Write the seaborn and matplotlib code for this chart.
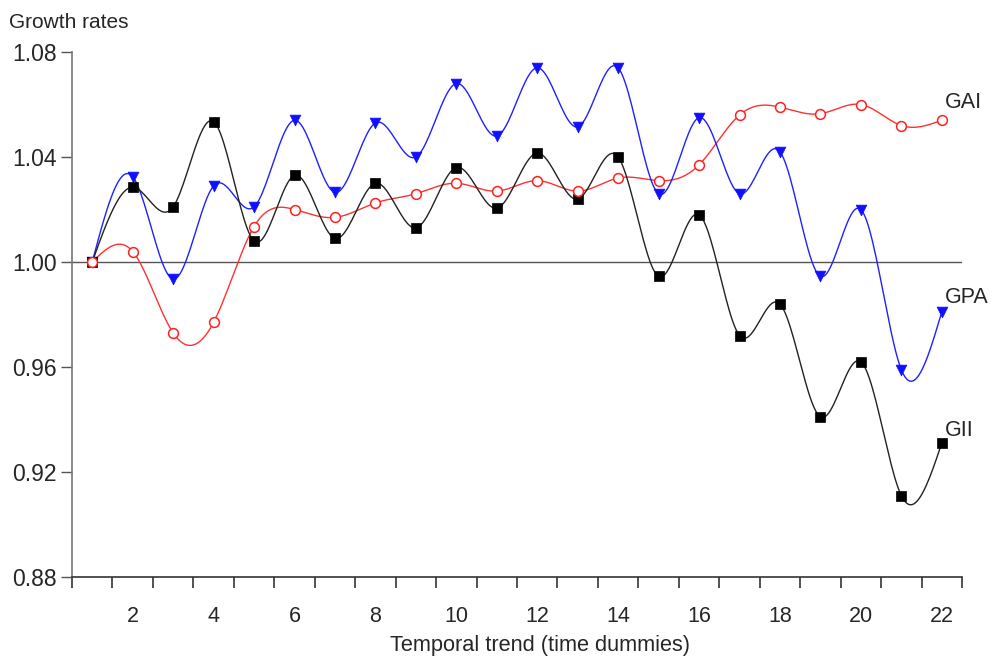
"""
Growth rates of GAI, GPA and GII against the temporal trend (time dummies).
"""

import numpy as np
import pandas as pd
import matplotlib
matplotlib.use("Agg")
import matplotlib.pyplot as plt
import seaborn as sns


# ═══════════════════════════════════════════════════════════════════════
# Data
# ═══════════════════════════════════════════════════════════════════════

periods = list(range(1, 23))

gai = [1.000, 1.004, 0.973, 0.977, 1.0135, 1.020, 1.017, 1.0225, 1.026, 1.030,
       1.027, 1.031, 1.027, 1.032, 1.031, 1.037, 1.056, 1.059, 1.0565, 1.060,
       1.052, 1.054]

gpa = [1.000, 1.0325, 0.9935, 1.029, 1.021, 1.054, 1.0265, 1.053, 1.040, 1.068,
       1.048, 1.074, 1.0515, 1.074, 1.026, 1.055, 1.026, 1.042, 0.9945, 1.020,
       0.959, 0.981]

gii = [1.000, 1.0285, 1.021, 1.0535, 1.008, 1.033, 1.009, 1.030, 1.013, 1.036,
       1.0205, 1.0415, 1.024, 1.040, 0.9945, 1.018, 0.972, 0.984, 0.941, 0.962,
       0.911, 0.931]

series_names = ["GAI", "GPA", "GII"]
x_ticks = [2, 4, 6, 8, 10, 12, 14, 16, 18, 20, 22]
y_ticks = [0.88, 0.92, 0.96, 1.00, 1.04, 1.08]

COLORS = {"GAI": "#ff2020", "GPA": "#1010ff", "GII": "#000000"}
LINE_COLORS = {"GAI": "#ff3030", "GPA": "#2020ff", "GII": "#222222"}


# ═══════════════════════════════════════════════════════════════════════
# Helpers
# ═══════════════════════════════════════════════════════════════════════

def natural_spline(x, y, n_per_seg=24):
    """Natural cubic spline through (x, y), evaluated on a fine grid."""
    x = np.asarray(x, dtype=float)
    y = np.asarray(y, dtype=float)
    n = len(x)
    h = np.diff(x)
    A = np.zeros((n, n))
    b = np.zeros(n)
    A[0, 0] = A[-1, -1] = 1.0
    for i in range(1, n - 1):
        A[i, i - 1] = h[i - 1]
        A[i, i] = 2 * (h[i - 1] + h[i])
        A[i, i + 1] = h[i]
        b[i] = 6 * ((y[i + 1] - y[i]) / h[i] - (y[i] - y[i - 1]) / h[i - 1])
    m = np.linalg.solve(A, b)

    xs, ys = [], []
    for i in range(n - 1):
        t = np.linspace(x[i], x[i + 1], n_per_seg, endpoint=(i == n - 2))
        a = x[i + 1] - t
        c = t - x[i]
        s = (m[i] * a ** 3 + m[i + 1] * c ** 3) / (6 * h[i]) \
            + (y[i] / h[i] - m[i] * h[i] / 6) * a \
            + (y[i + 1] / h[i] - m[i + 1] * h[i] / 6) * c
        xs.append(t)
        ys.append(s)
    return np.concatenate(xs), np.concatenate(ys)


# ═══════════════════════════════════════════════════════════════════════
# Build tables
# ═══════════════════════════════════════════════════════════════════════

values = {"GAI": gai, "GPA": gpa, "GII": gii}

df_points = pd.concat(
    [pd.DataFrame({"period": periods, "rate": values[k], "series": k})
     for k in series_names],
    ignore_index=True,
)

curves = []
for k in series_names:
    xs, ys = natural_spline(periods, values[k])
    curves.append(pd.DataFrame({"period": xs, "rate": ys, "series": k}))
df_curves = pd.concat(curves, ignore_index=True)


# ═══════════════════════════════════════════════════════════════════════
# Plot
# ═══════════════════════════════════════════════════════════════════════

sns.set_style("white")
plt.rcParams["font.family"] = ["Liberation Sans", "DejaVu Sans"]

fig = plt.figure(figsize=(10.03, 6.56), dpi=100)
ax = fig.add_axes([72 / 1003, 1 - 577 / 656, 890 / 1003, 525 / 656])

ax.axhline(1.0, color="#555555", lw=1.0, zorder=1)

sns.lineplot(data=df_curves, x="period", y="rate", hue="series",
             palette=LINE_COLORS, hue_order=series_names, lw=1.0,
             estimator=None, sort=False, legend=False, ax=ax, zorder=2)

# filled markers
sns.scatterplot(data=df_points[df_points["series"] == "GPA"], x="period",
                y="rate", color=COLORS["GPA"], marker="v", s=60,
                edgecolor=COLORS["GPA"], linewidth=0.5, legend=False,
                ax=ax, zorder=3)
sns.scatterplot(data=df_points[df_points["series"] == "GII"], x="period",
                y="rate", color=COLORS["GII"], marker="s", s=50,
                edgecolor=COLORS["GII"], linewidth=0.5, legend=False,
                ax=ax, zorder=3)
# open circles
sns.scatterplot(data=df_points[df_points["series"] == "GAI"], x="period",
                y="rate", marker="o", s=50, facecolor="white",
                edgecolor=COLORS["GAI"], linewidth=1.1, legend=False,
                ax=ax, zorder=3)

# series labels at the right end
label_pos = {"GAI": 1.0606, "GPA": 0.9863, "GII": 0.936}
for k in series_names:
    ax.text(22.08, label_pos[k], k, fontsize=15.5, va="center", ha="left",
            clip_on=False)

ax.set_xlim(0.5, 22.5)
ax.set_ylim(0.88, 1.08)

ax.set_xticks(x_ticks)
ax.set_xticklabels([str(t) for t in x_ticks], fontsize=15.5)
ax.set_xticks(np.arange(0.5, 22.6, 1.0), minor=True)
ax.tick_params(axis="x", which="major", bottom=True, length=0, pad=21)
ax.tick_params(axis="x", which="minor", bottom=True, length=8, width=1.2,
               color="#333333", direction="out")

ax.set_yticks(y_ticks)
ax.set_yticklabels([f"{t:.2f}" for t in y_ticks], fontsize=16.5)
ax.tick_params(axis="y", left=True, length=8, width=1.0, color="#555555",
               direction="out", pad=3)

for side in ["top", "right"]:
    ax.spines[side].set_visible(False)
ax.spines["left"].set_color("#777777")
ax.spines["left"].set_linewidth(1.2)
ax.spines["bottom"].set_color("#333333")
ax.spines["bottom"].set_linewidth(1.2)

ax.set_xlabel("")
ax.set_ylabel("")
fig.text(540 / 1003, 1 - 646 / 656, "Temporal trend (time dummies)",
         fontsize=15.7, ha="center", va="center")
fig.text(9 / 1003, 1 - 23 / 656, "Growth rates", fontsize=15,
         ha="left", va="center")

plt.savefig("out.png", dpi=100)
